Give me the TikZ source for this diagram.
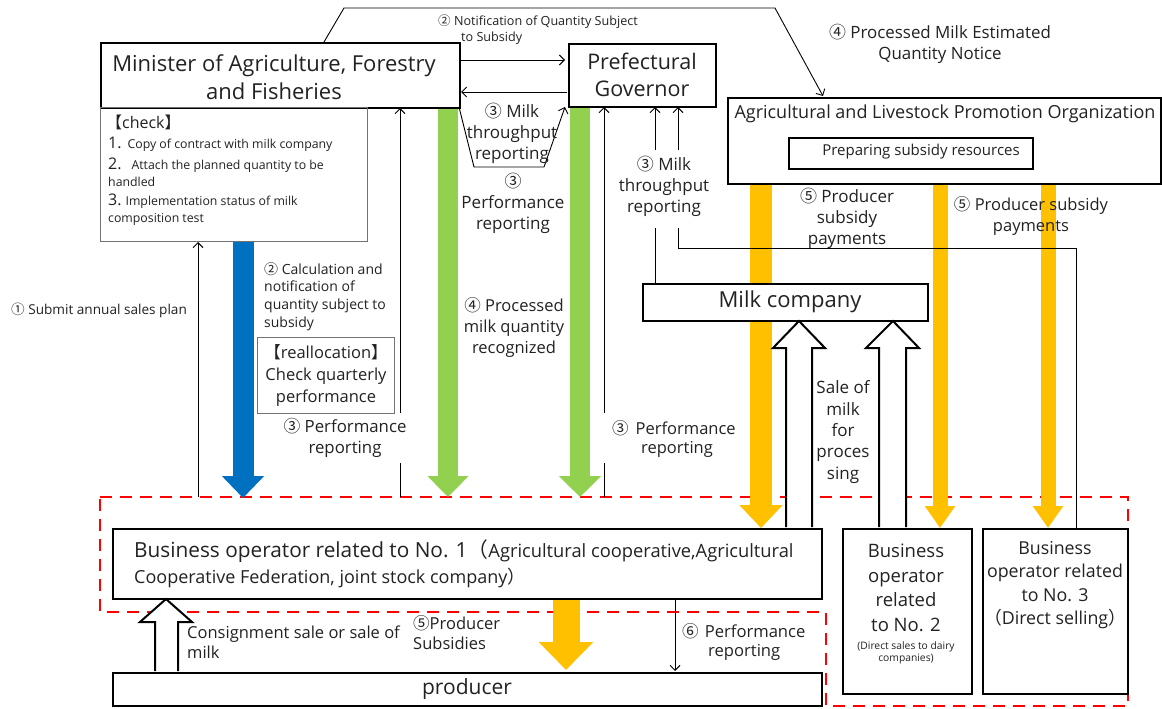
\documentclass[tikz,border=0pt]{standalone}
\usepackage{fontspec}
\setmainfont{Open Sans}
\newfontfamily\cjk{Noto Sans CJK SC}
\usetikzlibrary{arrows.meta}
\newcommand\fsz[2]{\fontsize{#1}{#2}\selectfont}
\newcommand\cn[1]{{\cjk #1}}
\definecolor{txt}{HTML}{222222}
\definecolor{mblue}{HTML}{0070C0}
\definecolor{mgreen}{HTML}{92D050}
\definecolor{myellow}{HTML}{FFC000}
\definecolor{mred}{HTML}{FF0000}
\tikzset{
  box/.style={draw=black, fill=white, line width=2.2pt, inner sep=0pt, text=txt},
  thinbox/.style={draw=black!55, line width=1pt, inner sep=0pt, text=txt},
  lbl/.style={inner sep=0pt, text=txt, align=center},
  arr/.style={line width=0.9pt, -{Straight Barb[length=5pt,width=10pt]}},
  ln/.style={line width=0.9pt},
  hollow/.style={draw=black, line width=2pt, fill=white, line join=miter},
}
\begin{document}
\begin{tikzpicture}[x=1pt,y={(0pt,-1pt)}]
\useasboundingbox[fill=white] (0,0) rectangle (1162,709);

% ---------- red dashed region ----------
\draw[mred, line width=2.8pt, dash pattern=on 12pt off 8pt]
  (100,497) -- (1128,497) -- (1128,706) -- (826,706) -- (826,612) -- (100,612) -- cycle;

% ---------- fat arrows ----------
\draw[mblue, line width=21pt, -{Triangle[length=22pt,width=41pt]}] (243,241) -- (243,498);
\draw[mgreen, line width=20pt, -{Triangle[length=21pt,width=40pt]}] (448,107) -- (448,497);
\draw[mgreen, line width=20pt, -{Triangle[length=21pt,width=41pt]}] (580,106) -- (580,497);
\draw[myellow, line width=22pt, -{Triangle[length=23pt,width=42pt]}] (761,183) -- (761,528);
\draw[myellow, line width=15pt, -{Triangle[length=22pt,width=29pt]}] (940,183) -- (940,528);
\draw[myellow, line width=15pt, -{Triangle[length=22pt,width=29pt]}] (1048,183) -- (1048,528);
\draw[myellow, line width=27pt, -{Triangle[length=28pt,width=53pt]}] (566,598) -- (566,670);

% ---------- boxes ----------
\node[box, anchor=north west, minimum width=359pt, minimum height=65pt] (min) at (100,42) {};
\node[lbl, font=\fsz{22}{28}] (mint) at (274,77) {Minister of Agriculture, Forestry\\and Fisheries};
\node[thinbox, anchor=north west, minimum width=267pt, minimum height=134pt] (check) at (100,107) {};
\node[box, anchor=north west, minimum width=147pt, minimum height=63pt] (gov) at (568,43) {};
\node[lbl, font=\fsz{21.5}{27}] (govt) at (642,75) {Prefectural\\Governor};
\node[box, anchor=north west, minimum width=433pt, minimum height=86pt] (agr) at (727,97) {};
\node[lbl, font=\fsz{18}{20}] (agrt) at (945,114) {Agricultural and Livestock Promotion Organization};
\node[box, line width=1.8pt, anchor=north west, minimum width=244pt, minimum height=31pt] (prep) at (788,137) {};
\node[lbl, font=\fsz{15}{18}] (prept) at (921,152) {Preparing subsidy resources};
\node[box, line width=2pt, anchor=north west, minimum width=285pt, minimum height=37pt] (milk) at (642,283) {};
\node[lbl, font=\fsz{22}{24}] (milkt) at (790,302) {Milk company};
\node[thinbox, line width=1.2pt, anchor=north west, minimum width=137pt, minimum height=76pt] (realloc) at (257,337) {};
\node[lbl, font=\fsz{16.5}{22}] (realloct) at (326,375) {\cn{【}reallocation\cn{】}\\Check quarterly\\performance};
\node[box, line width=2pt, anchor=north west, minimum width=709pt, minimum height=70pt] (bus1) at (112,528) {};
\node[box, line width=2pt, anchor=north west, minimum width=709pt, minimum height=33pt] (prod) at (112,672) {};
\node[lbl, font=\fsz{21}{22}] (prodt) at (467,689) {producer};
\node[box, line width=2pt, anchor=north west, minimum width=129pt, minimum height=165pt] (bus2) at (842,528) {};
\node[box, line width=2pt, anchor=north west, minimum width=145pt, minimum height=165pt] (bus3) at (982,528) {};

% hollow arrows
\draw[hollow] (786,527) -- (786,348) -- (773,348) -- (799,321) -- (825,348) -- (812,348) -- (812,527);
\draw[hollow] (879,527) -- (879,348) -- (866,348) -- (893,321) -- (919,348) -- (906,348) -- (906,527);
\draw[hollow] (155,671) -- (155,622) -- (140,622) -- (166,599) -- (192,622) -- (178,622) -- (178,671);

% ---------- check list text ----------
\node[lbl, anchor=west, font=\fsz{16}{18}] (ck0) at (106,122) {\cn{【}check\cn{】}};
\node[lbl, anchor=west, font=\fsz{12.3}{14}] (ck1) at (108,144) {{\fsz{16}{18}1.}\hspace{6pt}Copy of contract with milk company};
\node[lbl, anchor=west, font=\fsz{12.3}{14}] (ck2) at (108,165) {{\fsz{16}{18}2.}\hspace{10pt}Attach the planned quantity to be};
\node[lbl, anchor=west, font=\fsz{12.3}{14}] (ck3) at (108,182) {handled};
\node[lbl, anchor=west, font=\fsz{12.3}{14}] (ck4) at (108,201) {{\fsz{16}{18}3.}\hspace{4pt}Implementation status of milk};
\node[lbl, anchor=west, font=\fsz{12.3}{14}] (ck5) at (108,219) {composition test};

% ---------- thin connectors ----------
\draw[arr] (324,42) -- (344,8) -- (775,8) -- (823,96);
\draw[arr] (459,60) -- (565,60);
\draw[arr] (567,92) -- (461,92);
\draw[arr] (459,107) -- (474,167) -- (544,167) -- (565,107);
\draw[arr] (198,497) -- (198,242);
\draw[ln] (400,497) -- (400,463);
\draw[arr] (400,413) -- (400,108);
\draw[ln] (604,497) -- (604,463);
\draw[arr] (604,413) -- (604,107);
\draw[arr] (655,150) -- (655,107);
\draw[arr] (678,150) -- (678,107);
\draw[ln] (655,283) -- (655,228);
\draw[ln] (678,228) -- (678,248) -- (1076,248) -- (1076,528);
\draw[arr] (675,599) -- (675,671);

% ---------- labels ----------
\node[lbl, anchor=west, font=\fsz{12.6}{14}] (n1) at (438,22) {\cn{②} Notification of Quantity Subject};
\node[lbl, anchor=west, font=\fsz{12.6}{14}] (n2) at (461,38) {to Subsidy};
\node[lbl, font=\fsz{16.9}{21}] (pmeq) at (940,44) {\cn{④} Processed Milk Estimated\\Quantity Notice};
\node[lbl, font=\fsz{17}{21}] (mtr1) at (512,133) {\cn{③} Milk\\throughput\\reporting};
\node[lbl, font=\fsz{17}{21}] (pr1) at (513,203) {\cn{③}\\Performance\\reporting};
\node[lbl, font=\fsz{17}{21}] (mtr2) at (664,186) {\cn{③} Milk\\throughput\\reporting};
\node[lbl, anchor=north west, align=left, font=\fsz{14}{17.8}] (calc) at (264,262) {\cn{②} Calculation and\\notification of\\quantity subject to\\subsidy};
\node[lbl, anchor=west, font=\fsz{13.6}{15}] (sub) at (11,310) {\cn{①} Submit annual sales plan};
\node[lbl, font=\fsz{16.8}{21}] (pr2) at (345,438) {\cn{③} Performance\\reporting};
\node[lbl, font=\fsz{16.5}{21}] (pmq) at (514,327) {\cn{④} Processed\\milk quantity\\recognized};
\node[lbl, anchor=west, font=\fsz{16.5}{21}] (pr3a) at (612,428) {\cn{③}\hspace{7pt}Performance};
\node[lbl, anchor=west, font=\fsz{16.5}{21}] (pr3b) at (641,449) {reporting};
\node[lbl, font=\fsz{17}{21}] (psp1) at (847,218) {\cn{⑤} Producer\\subsidy\\payments};
\node[lbl, font=\fsz{16.5}{21}] (psp2) at (1031,216) {\cn{⑤} Producer subsidy\\payments};
\node[lbl, font=\fsz{17}{21.3}] (sale) at (843,432) {Sale of\\milk\\for\\proces\\sing};
\node[lbl, anchor=north west, align=left, font=\fsz{16.5}{20}] (cons) at (187,626) {Consignment sale or sale of\\milk};
\node[lbl, anchor=north west, align=left, font=\fsz{16.5}{20}] (psub) at (413,615) {\cn{⑤}Producer\\Subsidies};
\node[lbl, anchor=west, font=\fsz{16.6}{21}] (pr6a) at (682,631) {\cn{⑥}\hspace{6pt}Performance};
\node[lbl, anchor=west, font=\fsz{16.6}{21}] (pr6b) at (708,652) {reporting};

\node[lbl, anchor=west, font=\fsz{20.8}{22}] (b1a) at (134,551) {Business operator related to No. 1\cn{（}{\fsz{18.3}{20}Agricultural cooperative,Agricultural}};
\node[lbl, anchor=west, font=\fsz{18}{20}] (b1b) at (134,578) {Cooperative Federation, joint stock company\cn{）}};

\node[lbl, font=\fsz{18.5}{24.5}] (b2) at (906,588) {Business\\operator\\related\\to No. 2};
\node[lbl, font=\fsz{10.3}{12.5}] (b2s) at (906,653) {(Direct sales to dairy\\companies)};
\node[lbl, font=\fsz{17.8}{23.3}] (b3) at (1055,585) {Business\\operator related\\to No. 3\\\cn{（}Direct selling\cn{）}};
\end{tikzpicture}
\end{document}
